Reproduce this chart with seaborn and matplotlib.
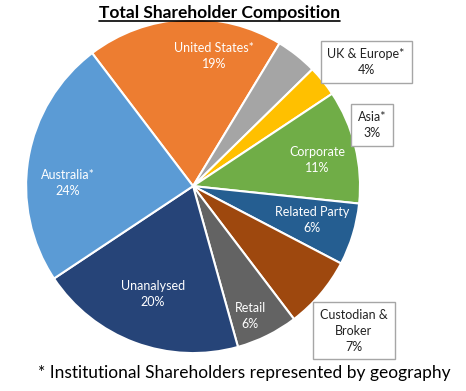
import numpy as np
import matplotlib
matplotlib.use("Agg")
import matplotlib.pyplot as plt
import seaborn as sns

# Data
categories = ["United States*", "UK & Europe*", "Asia*", "Corporate", "Related Party",
              "Custodian &\nBroker", "Retail", "Unanalysed", "Australia*"]
shares = [19, 4, 3, 11, 6, 7, 6, 20, 24]
colors = ["#ED7D31", "#A5A5A5", "#FFC000", "#70AD47", "#255E91",
          "#9E480E", "#636363", "#264478", "#5B9BD5"]
boxed = [False, True, True, False, False, True, False, False, False]
# label placement (angle in degrees, radius as fraction of pie radius)
label_pos = [(81, 0.79), (35.6, 1.275), (18.9, 1.133), (11.8, 0.76), (-16, 0.74),
             (-41.9, 1.295), (-66.3, 0.85), (-110.4, 0.687), (178.6, 0.75)]

sns.set_theme(style="white")
plt.rcParams["font.family"] = ["Lato", "DejaVu Sans"]

fig = plt.figure(figsize=(4.66, 3.91), dpi=100)
ax = fig.add_axes([0.0558, 0.097, 0.717, 0.854])

wedges, _ = ax.pie(shares, colors=colors, startangle=127.2, counterclock=False,
                   wedgeprops=dict(edgecolor="white", linewidth=1.5))
ax.set_xlim(-1, 1)
ax.set_ylim(-1, 1)
ax.set_aspect("equal")

for name, val, box, (ang, r) in zip(categories, shares, boxed, label_pos):
    x = r * np.cos(np.radians(ang))
    y = r * np.sin(np.radians(ang))
    txt = f"{name}\n{val}%"
    if box:
        ax.text(x, y, txt, ha="center", va="center", fontsize=9, color="#222222",
                linespacing=1.4, clip_on=False,
                bbox=dict(boxstyle="square,pad=0.55", fc="white", ec="#A6A6A6", lw=1))
    else:
        ax.text(x, y, txt, ha="center", va="center", fontsize=9, color="white",
                linespacing=1.4)

title = fig.text(0.472, 0.966, "Total Shareholder Composition", ha="center", va="center",
                 fontsize=12.5, fontweight="bold", color="black")
fig.canvas.draw()
bb = title.get_window_extent(fig.canvas.get_renderer()).transformed(fig.transFigure.inverted())
fig.add_artist(plt.Line2D([bb.x0, bb.x1], [bb.y0 + 0.002, bb.y0 + 0.002],
                          color="black", lw=1.2, transform=fig.transFigure))

fig.text(0.525, 0.045, "* Institutional Shareholders represented by geography",
         ha="center", va="center", fontsize=12.5, color="black")

fig.savefig("out.png", dpi=100, facecolor="white")
